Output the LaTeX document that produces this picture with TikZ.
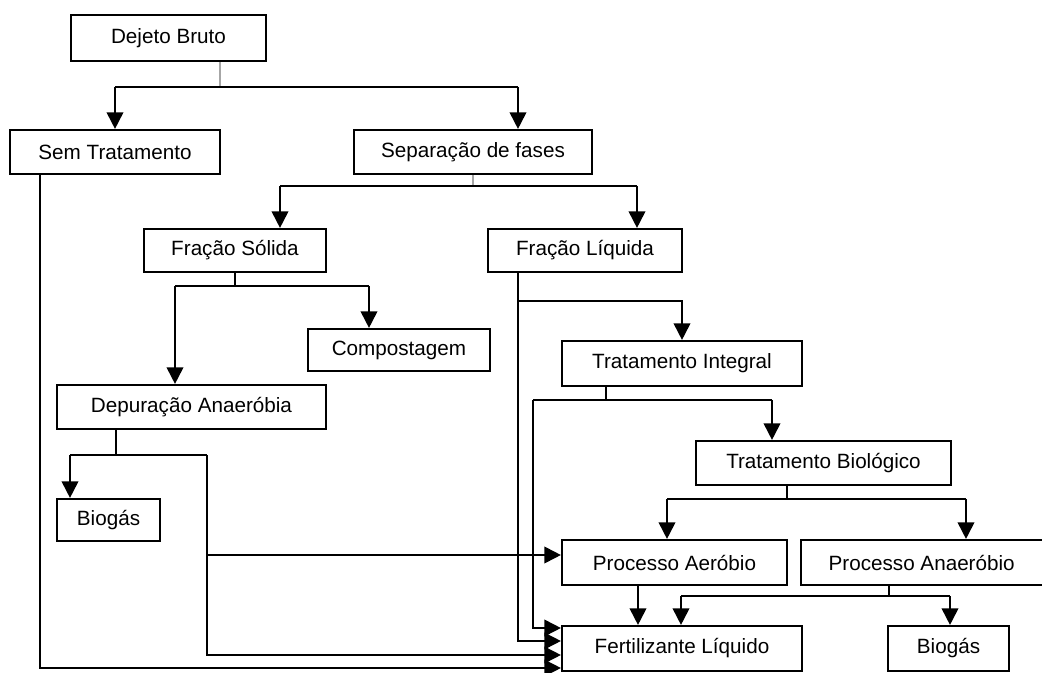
\documentclass[tikz,border=0pt]{standalone}
\usepackage{fontspec}
\setmainfont{Liberation Sans}
\usetikzlibrary{arrows.meta}
\begin{document}
\begin{tikzpicture}[x=0.75pt,y=-0.75pt,
  bx/.style 2 args={draw, line width=1.6pt, minimum width=#1*0.75pt, minimum height=#2*0.75pt, inner sep=0pt, font=\fontsize{15.5pt}{18pt}\selectfont},
  ln/.style={line width=1.4pt},
  gl/.style={line width=1.4pt, draw=black!35},
  arr/.style={line width=1.4pt, -{Triangle[length=12.5pt,width=12.5pt]}}]
\useasboundingbox (0,0) rectangle (1042,673);
% boxes
\node[bx={195}{46}] (DB) at (168.5,38) {Dejeto Bruto};
\node[bx={210}{44}] (ST) at (115,152) {Sem Tratamento};
\node[bx={238}{44}] (SF) at (473,152) {Separação de fases};
\node[bx={182}{43}] (FS) at (235,250.5) {Fração Sólida};
\node[bx={194}{43}] (FL) at (585,250.5) {Fração Líquida};
\node[bx={182}{42}] (CO) at (399,350) {Compostagem};
\node[bx={269}{44}] (DA) at (191.5,407) {Depuração Anaeróbia};
\node[bx={240}{45}] (TI) at (682,363.5) {Tratamento Integral};
\node[bx={255}{44}] (TB) at (823.5,463) {Tratamento Biológico};
\node[bx={103}{42}] (BG1) at (108.5,520) {Biogás};
\node[bx={225}{45}] (PA) at (674.5,562.5) {Processo Aeróbio};
\node[bx={244}{45}] (PN) at (923,562.5) {\hspace*{-2pt}Processo Anaeróbio};
\node[bx={240}{45}] (FE) at (682,648.5) {Fertilizante Líquido};
\node[bx={121}{45}] (BG2) at (948.5,648.5) {Biogás};
% junction coordinates
\coordinate (a0) at (220,87); \coordinate (a1) at (115,87); \coordinate (a2) at (518,87);
\coordinate (b0) at (473,186); \coordinate (b1) at (280,186); \coordinate (b2) at (637,186);
\coordinate (c0) at (235,286); \coordinate (c1) at (175,286); \coordinate (c2) at (369,286);
\coordinate (d0) at (518,301); \coordinate (d1) at (518,641); \coordinate (d2) at (682,301);
\coordinate (e0) at (606,400); \coordinate (e1) at (533,400); \coordinate (e2) at (772,400); \coordinate (e3) at (533,628);
\coordinate (f0) at (787,499); \coordinate (f1) at (667,499); \coordinate (f2) at (966,499);
\coordinate (g0) at (638,585);
\coordinate (h0) at (889,596); \coordinate (h1) at (681,596); \coordinate (h2) at (950,596);
\coordinate (i0) at (116,455); \coordinate (i1) at (70,455); \coordinate (i2) at (207,455); \coordinate (i3) at (207,555); \coordinate (i4) at (207,655);
\coordinate (k0) at (40,668);
% Dejeto Bruto
\draw[gl] (DB.south -| a0) -- (a0);
\draw[ln] (a1) -- (a2);
\draw[arr] (a1) -- (ST.north -| a1);
\draw[arr] (a2) -- (SF.north -| a2);
% Separacao de fases
\draw[gl] (SF.south -| b0) -- (b0);
\draw[ln] (b1) -- (b2);
\draw[arr] (b1) -- (FS.north -| b1);
\draw[arr] (b2) -- (FL.north -| b2);
% Fracao Solida
\draw[ln] (FS.south -| c0) -- (c0);
\draw[ln] (c1) -- (c2);
\draw[arr] (c1) -- (DA.north -| c1);
\draw[arr] (c2) -- (CO.north -| c2);
% Fracao Liquida
\draw[arr] (FL.south -| d0) -- (d1) -- (FE.west |- d1);
\draw[arr] (d0) -- (d2) -- (TI.north -| d2);
% Tratamento Integral
\draw[ln] (TI.south -| e0) -- (e0);
\draw[ln] (e1) -- (e2);
\draw[arr] (e2) -- (TB.north -| e2);
\draw[arr] (e1) -- (e3) -- (FE.west |- e3);
% Tratamento Biologico
\draw[ln] (TB.south -| f0) -- (f0);
\draw[ln] (f1) -- (f2);
\draw[arr] (f1) -- (PA.north -| f1);
\draw[arr] (f2) -- (PN.north -| f2);
% Processo Aerobio
\draw[arr] (PA.south -| g0) -- (FE.north -| g0);
% Processo Anaerobio
\draw[ln] (PN.south -| h0) -- (h0);
\draw[ln] (h1) -- (h2);
\draw[arr] (h1) -- (FE.north -| h1);
\draw[arr] (h2) -- (BG2.north -| h2);
% Depuracao Anaerobia
\draw[ln] (DA.south -| i0) -- (i0);
\draw[ln] (i1) -- (i2);
\draw[arr] (i1) -- (BG1.north -| i1);
\draw[arr] (i2) -- (i4) -- (FE.west |- i4);
\draw[arr] (i3) -- (PA.west |- i3);
% Sem Tratamento
\draw[arr] (ST.south -| k0) -- (k0) -- (FE.west |- k0);
\end{tikzpicture}
\end{document}
